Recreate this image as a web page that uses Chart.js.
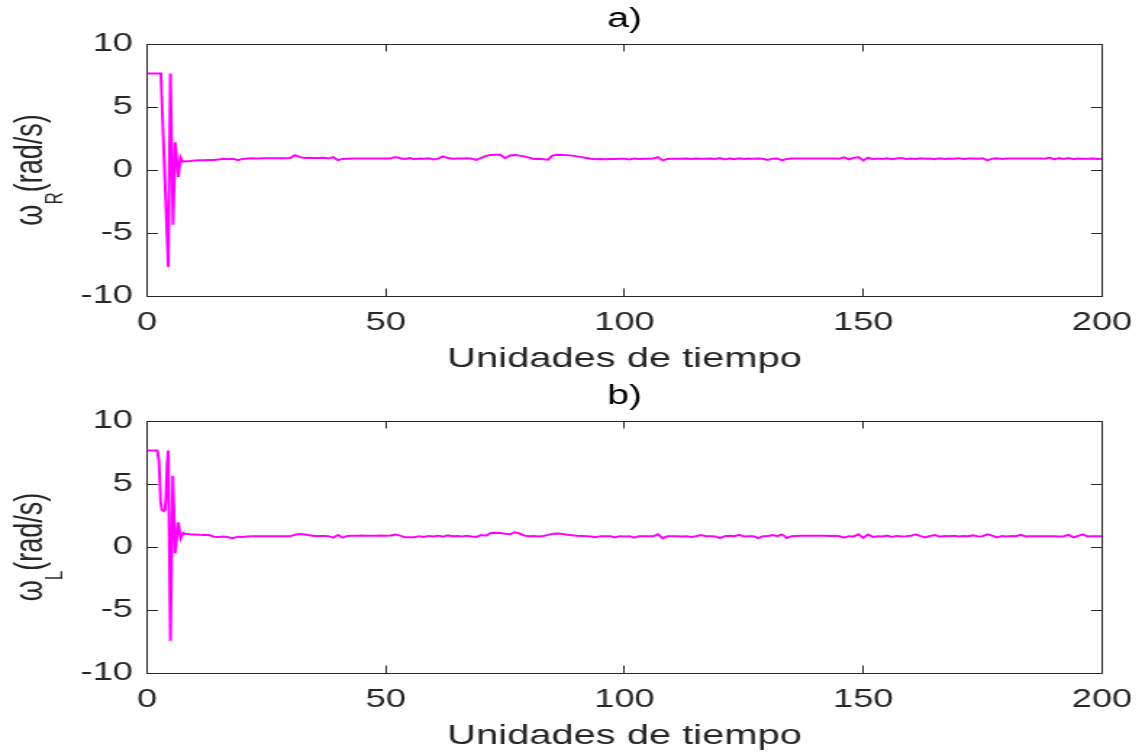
<!DOCTYPE html>
<html>
<head>
<meta charset="utf-8">
<script src="https://cdn.jsdelivr.net/npm/chart.js@4.4.1/dist/chart.umd.min.js"></script>
<style>
  html, body { margin: 0; padding: 0; background: #ffffff; }
  canvas { display: block; }
</style>
</head>
<body>
<canvas id="chartA" width="788" height="378" style="width:1142px;height:378px;"></canvas>
<canvas id="chartB" width="788" height="377" style="width:1142px;height:377px;"></canvas>
<script>
// ---------- DATA ----------
const xTicks = [0, 50, 100, 150, 200];
const yTicks = [-10, -5, 0, 5, 10];

// transient part (a): omega_R
const tiempoTransR = [0, 2.9, 4.45, 4.9, 5.45, 5.9, 6.55, 7.0, 7.5];
const omegaTransR  = [7.65, 7.65, -7.7, 7.65, -4.35, 2.2, -0.55, 1.0, 0.65];

// transient part (b): omega_L
const tiempoTransL = [0, 2.15, 2.5, 2.85, 3.1, 3.5, 3.8, 4.0, 4.2, 4.45, 4.9, 5.4, 5.9, 6.55, 7.05, 7.6];
const omegaTransL  = [7.65, 7.65, 6.8, 3.6, 2.95, 2.85, 3.0, 4.2, 6.5, 7.65, -7.45, 5.65, -0.5, 1.95, 0.7, 1.12];

// steady part, sample times
const tiempo = [
  8, 9, 10, 11, 12, 13, 14, 15, 16, 17,
  18, 19, 20, 21, 22, 23, 24, 25, 26, 27,
  28, 29, 30, 31, 32, 33, 34, 35, 36, 37,
  38, 39, 40, 41, 42, 43, 44, 45, 46, 47,
  48, 49, 50, 51, 52, 53, 54, 55, 56, 57,
  58, 59, 60, 61, 62, 63, 64, 65, 66, 67,
  68, 69, 70, 71, 72, 73, 74, 75, 76, 77,
  78, 79, 80, 81, 82, 83, 84, 85, 86, 87,
  88, 89, 90, 91, 92, 93, 94, 95, 96, 97,
  98, 99, 100, 101, 102, 103, 104, 105, 106, 107,
  108, 109, 110, 111, 112, 113, 114, 115, 116, 117,
  118, 119, 120, 121, 122, 123, 124, 125, 126, 127,
  128, 129, 130, 131, 132, 133, 134, 135, 136, 137,
  138, 139, 140, 141, 142, 143, 144, 145, 146, 147,
  148, 149, 150, 151, 152, 153, 154, 155, 156, 157,
  158, 159, 160, 161, 162, 163, 164, 165, 166, 167,
  168, 169, 170, 171, 172, 173, 174, 175, 176, 177,
  178, 179, 180, 181, 182, 183, 184, 185, 186, 187,
  188, 189, 190, 191, 192, 193, 194, 195, 196, 197,
  198, 199, 200
];

const omegaR = [
  0.70, 0.72, 0.75, 0.78, 0.78, 0.80, 0.79, 0.84, 0.90, 0.86,
  0.90, 0.78, 0.88, 0.92, 0.93, 0.92, 0.93, 0.93, 0.94, 0.93,
  0.93, 0.94, 0.95, 1.18, 1.02, 0.96, 0.97, 0.96, 0.95, 0.97,
  0.92, 1.02, 0.78, 0.88, 0.90, 0.91, 0.91, 0.92, 0.91, 0.91,
  0.92, 0.91, 0.91, 0.92, 1.02, 0.93, 0.88, 0.94, 0.86, 0.92,
  0.89, 0.93, 0.84, 0.90, 1.08, 0.95, 0.90, 0.92, 0.91, 0.93,
  0.89, 0.80, 0.97, 1.12, 1.20, 1.22, 1.21, 0.94, 1.15, 1.18,
  1.14, 1.08, 0.98, 0.88, 0.90, 0.86, 0.82, 1.16, 1.21, 1.20,
  1.18, 1.14, 1.08, 1.02, 0.96, 0.90, 0.86, 0.88, 0.85, 0.88,
  0.87, 0.89, 0.90, 0.84, 0.91, 0.88, 0.90, 0.90, 0.91, 1.02,
  0.76, 0.88, 0.89, 0.90, 0.89, 0.92, 0.88, 0.91, 0.89, 0.90,
  0.92, 0.88, 0.95, 0.84, 0.92, 0.86, 0.93, 0.88, 0.91, 0.90,
  0.92, 0.89, 0.80, 0.90, 0.92, 0.76, 0.88, 0.91, 0.91, 0.92,
  0.91, 0.91, 0.92, 0.91, 0.91, 0.92, 0.91, 0.90, 1.00, 0.84,
  0.96, 1.02, 0.76, 0.98, 0.86, 0.92, 0.88, 0.93, 0.86, 0.91,
  0.95, 0.88, 0.92, 0.87, 0.93, 0.89, 0.91, 0.86, 0.93, 0.88,
  0.92, 0.90, 0.94, 0.87, 0.91, 0.92, 0.89, 0.93, 0.76, 0.90,
  0.94, 0.88, 0.92, 0.91, 0.91, 0.92, 0.91, 0.91, 0.92, 0.91,
  0.90, 0.98, 0.84, 0.94, 0.88, 0.95, 0.86, 0.92, 0.90, 0.89,
  0.91, 0.88, 0.89
];

const omegaL = [
  1.05, 1.02, 1.00, 0.97, 0.95, 0.95, 0.82, 0.80, 0.84, 0.78,
  0.70, 0.82, 0.80, 0.84, 0.85, 0.85, 0.86, 0.85, 0.85, 0.86,
  0.85, 0.86, 0.85, 0.98, 1.03, 1.00, 0.93, 0.88, 0.87, 0.87,
  0.86, 0.74, 0.95, 0.74, 0.88, 0.90, 0.90, 0.91, 0.90, 0.90,
  0.90, 0.91, 0.90, 0.92, 0.98, 0.90, 0.77, 0.78, 0.77, 0.86,
  0.80, 0.88, 0.84, 0.90, 0.82, 0.92, 0.86, 0.88, 0.84, 0.90,
  0.84, 0.80, 0.95, 0.90, 1.12, 1.14, 1.12, 1.05, 1.01, 1.16,
  1.08, 0.90, 0.86, 0.88, 0.84, 0.88, 0.96, 1.05, 1.07, 1.04,
  0.98, 0.94, 0.90, 0.88, 0.86, 0.84, 0.78, 0.86, 0.85, 0.86,
  0.76, 0.86, 0.84, 0.86, 0.74, 0.85, 0.85, 0.86, 0.85, 1.00,
  0.70, 0.86, 0.85, 0.86, 0.84, 0.86, 0.80, 0.86, 0.95, 0.85,
  0.86, 0.84, 0.70, 0.86, 0.90, 0.85, 0.96, 0.84, 0.86, 0.85,
  0.70, 0.86, 0.88, 0.94, 0.86, 1.00, 0.72, 0.86, 0.88, 0.90,
  0.89, 0.89, 0.89, 0.89, 0.89, 0.88, 0.89, 0.85, 0.74, 0.86,
  0.84, 1.00, 0.72, 0.98, 0.80, 0.86, 0.84, 0.90, 0.80, 0.88,
  0.84, 0.86, 0.90, 1.00, 0.86, 0.76, 0.88, 0.95, 0.82, 0.88,
  0.86, 0.90, 0.84, 0.88, 0.86, 0.92, 0.84, 0.86, 1.00, 0.90,
  0.76, 0.88, 0.84, 0.88, 0.86, 0.97, 0.84, 0.86, 0.85, 0.86,
  0.85, 0.86, 0.85, 0.84, 0.86, 0.96, 0.76, 0.88, 1.00, 0.84,
  0.86, 0.85, 0.85
];

// ---------- CHART ----------
const FONT = '"Liberation Sans", Arial, Helvetica, sans-serif';
Chart.defaults.font.family = FONT;
const AXC = '#262626';
const SX = 1142 / 788;   // horizontal stretch of the canvas

const yTitlePlugin = {
  id: 'yTitleSub',
  afterDraw(chart, args, opts) {
    const { ctx, chartArea } = chart;
    const cy = (chartArea.top + chartArea.bottom) / 2;
    ctx.save();
    ctx.translate(opts.x, cy);
    ctx.rotate(-Math.PI / 2);
    ctx.fillStyle = AXC;
    ctx.textBaseline = 'alphabetic';
    ctx.textAlign = 'left';
    const mainFont = opts.size + 'px ' + FONT;
    const subFont = opts.subSize + 'px ' + FONT;
    ctx.font = mainFont; const w1 = ctx.measureText(opts.main).width;
    ctx.font = subFont;  const w2 = ctx.measureText(opts.sub).width;
    ctx.font = mainFont; const w3 = ctx.measureText(opts.rest).width;
    let x = -(w1 + w2 + w3) / 2;
    ctx.font = mainFont; ctx.fillText(opts.main, x, 0); x += w1;
    ctx.font = subFont;  ctx.fillText(opts.sub, x, opts.subShift); x += w2;
    ctx.font = mainFont; ctx.fillText(opts.rest, x, 0);
    ctx.restore();
  }
};

const TL = -7.5;
function gridOpts() {
  return { display: true, drawOnChartArea: false, drawTicks: true, tickLength: TL, tickColor: AXC, tickWidth: 1 };
}
function borderOpts() {
  return { display: true, color: AXC, width: 1 };
}

function makeChart(id, tTrans, vTrans, vSteady, label, sub, topH) {
  const xs = tTrans.concat(tiempo);
  const ys = vTrans.concat(vSteady);
  const pts = xs.map((t, i) => ({ x: t, y: ys[i] }));
  const yTickFont = { size: 25, lineHeight: 1, family: FONT };
  const xTickFont = { size: 25, lineHeight: 2.4, family: FONT };
  return new Chart(document.getElementById(id), {
    type: 'line',
    data: {
      datasets: [{
        data: pts,
        borderColor: '#ff00ff',
        borderWidth: 2,
        pointRadius: 0,
        tension: 0,
        fill: false,
        xAxisID: 'x',
        yAxisID: 'y'
      }]
    },
    options: {
      responsive: false,
      animation: false,
      devicePixelRatio: 1,
      layout: { padding: 0 },
      plugins: {
        legend: { display: false },
        tooltip: { enabled: false },
        title: { display: false },
        yTitleSub: { x: 29, main: 'ω', sub: sub, rest: '(rad/s)', size: 27, subSize: 17, subShift: 13.5 }
      },
      scales: {
        x: {
          type: 'linear', position: 'bottom',
          min: xTicks[0], max: xTicks[xTicks.length - 1],
          afterBuildTicks: s => { s.ticks = xTicks.map(v => ({ value: v })); },
          ticks: { font: xTickFont, color: AXC, padding: 4.5, maxRotation: 0, autoSkip: false },
          grid: gridOpts(), border: borderOpts(),
          title: { display: true, text: 'Unidades de tiempo', color: AXC,
                   font: { size: 27.5, lineHeight: 1, family: FONT }, padding: { top: 0, bottom: 4.5 } },
          afterFit: s => { s.height = 82; }
        },
        xTop: {
          type: 'linear', position: 'top',
          min: xTicks[0], max: xTicks[xTicks.length - 1],
          afterBuildTicks: s => { s.ticks = xTicks.map(v => ({ value: v })); },
          ticks: { display: false },
          grid: gridOpts(), border: borderOpts(),
          title: { display: true, text: label, color: '#000000',
                   font: { size: 27, lineHeight: 1, family: FONT }, padding: { top: topH - 37.5, bottom: 0 } },
          afterFit: s => { s.height = topH; }
        },
        y: {
          type: 'linear', position: 'left',
          min: yTicks[0], max: yTicks[yTicks.length - 1],
          afterBuildTicks: s => { s.ticks = yTicks.map(v => ({ value: v })); },
          ticks: { font: yTickFont, color: AXC, padding: 17.2 },
          grid: gridOpts(), border: borderOpts(),
          afterFit: s => { s.width = 147 / SX; }
        },
        yRight: {
          type: 'linear', position: 'right',
          min: yTicks[0], max: yTicks[yTicks.length - 1],
          afterBuildTicks: s => { s.ticks = yTicks.map(v => ({ value: v })); },
          ticks: { display: false },
          grid: gridOpts(), border: borderOpts(),
          afterFit: s => { s.width = 788 - 1102 / SX; }
        }
      }
    },
    plugins: [yTitlePlugin]
  });
}

makeChart('chartA', tiempoTransR, omegaTransR, omegaR, 'a)', 'R', 44);
makeChart('chartB', tiempoTransL, omegaTransL, omegaL, 'b)', 'L', 43);
</script>
</body>
</html>
